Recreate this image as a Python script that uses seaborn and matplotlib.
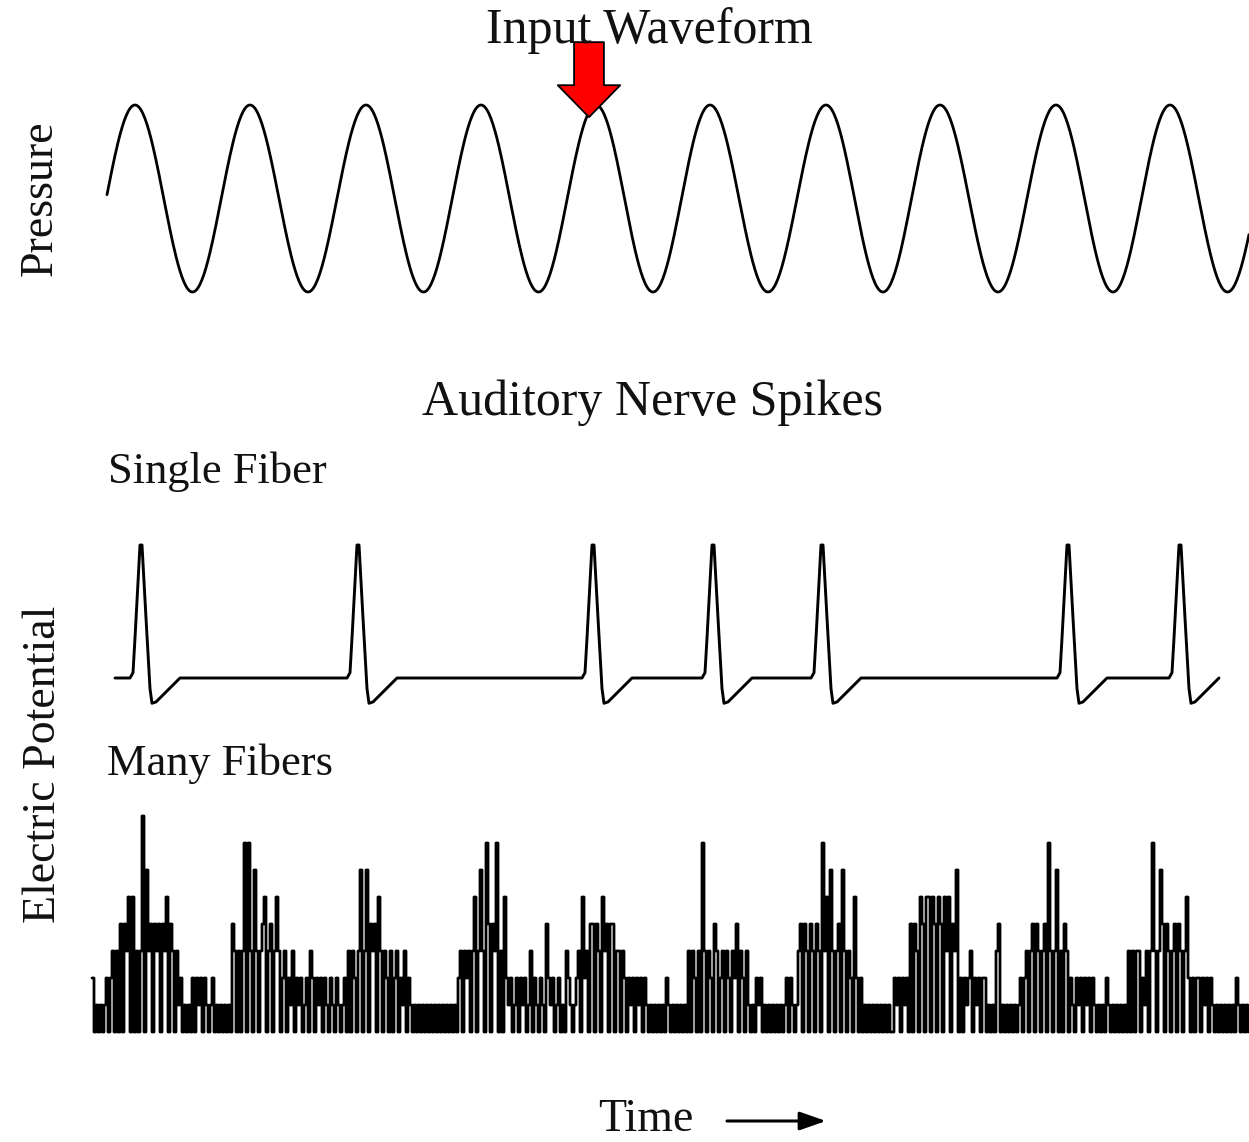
import numpy as np
import matplotlib
matplotlib.use("Agg")
import matplotlib.pyplot as plt
import seaborn as sns

# ---------------- data ----------------
# Input waveform: times of the pressure peaks (time axis in picture units)
PEAK_TIMES = [135, 250, 366, 481, 596, 710, 826, 940, 1056, 1170]
WAVE_START = 107
WAVE_END = 1249
ARROW_TIME = 589           # red arrow marks this instant (near 5th peak)
ARROW_VALUE = 0.87

# Single fiber: spike times and the shape of one action potential
SPIKE_TIMES = [141, 358, 593, 713, 822, 1068, 1180]
SPIKE_DT = [-11, -8, -6, -1, 1, 5, 9, 11, 15, 39]
SPIKE_V = [0.0, 0.04, 0.30, 1.0, 1.0, 0.45, -0.08, -0.19, -0.18, 0.0]
SINGLE_START = 115

# Many fibers: number of simultaneously firing fibers, one digit per sample
MANY_START = 92
MANY_STEP = 2
MANY_FIBERS = [
    "2010101202 3030404350 5030380634 0434043504 3031201010 2021202101",
    "2010101010 4303037073 0630345034 0353023021 3021201203 2021202102",
    "1021012030 3203603604 3405303203 0230213021 0101010101 0101010101",
    "0102303230 3503630740 4370305212 0120212013 0210210421 2012010321",
    "0123052304 4043053404 4033032021 2021202101 0101010210 1010101030",
    "3203073032 0430230320 3240320310 1021201010 1010101202 1013404304",
    "3043073506 3034063032 0520201010 1010101010 0212021204 0430540550",
    "5405405350 4360202123 0212022010 1034010101 0101202303 4043034073",
    "0360304302 1021202120 2101010210 1010101030 3033021303 7303640430",
    "3404303520 2022021202 1010101010 102101010",
]

# ---------------- style ----------------
sns.set_theme(style="white")
plt.rcParams["font.family"] = ["Liberation Serif", "DejaVu Serif"]

W, H = 1249, 1142
fig = plt.figure(figsize=(W / 100, H / 100), dpi=100)
fig.patch.set_facecolor("white")


def rect(y_top, y_bot):
    return [0, 1 - y_bot / H, 1, (y_bot - y_top) / H]


def fx(x):
    return x / W


def fy(y):
    return 1 - y / H


# ---------------- pressure waveform ----------------
ax_p = fig.add_axes(rect(30, 330))
t = np.arange(WAVE_START, WAVE_END + 1, 1.0)
period = np.mean(np.diff(PEAK_TIMES))
knots = [PEAK_TIMES[0] - period] + PEAK_TIMES + [PEAK_TIMES[-1] + period]
phase = np.interp(t, knots, 2 * np.pi * np.arange(len(knots)))
pressure = np.cos(phase)
sns.lineplot(x=t, y=pressure, ax=ax_p, color="black", lw=2.0,
             estimator=None, sort=False)
ax_p.set_xlim(0, W)
ax_p.set_ylim(-1 - (330 - 292) / 93.5, 1 + (105 - 30) / 93.5)
ax_p.set_axis_off()

ax_p.annotate("", xy=(ARROW_TIME, ARROW_VALUE), xycoords="data",
              xytext=(0, 54), textcoords="offset points",
              arrowprops=dict(width=21.5, headwidth=45, headlength=23,
                              shrink=0, facecolor="#ff0000",
                              edgecolor="black", lw=1.3),
              annotation_clip=False)

# ---------------- single fiber ----------------
ax_s = fig.add_axes(rect(510, 730))
ts, vs = [SINGLE_START], [0.0]
for s in SPIKE_TIMES:
    ts += [s + d for d in SPIKE_DT]
    vs += SPIKE_V
sns.lineplot(x=ts, y=vs, ax=ax_s, color="black", lw=2.1,
             estimator=None, sort=False)
ax_s.set_xlim(0, W)
ax_s.set_ylim((678 - 730) / 133, (678 - 510) / 133)
ax_s.set_axis_off()

# ---------------- many fibers ----------------
ax_m = fig.add_axes(rect(790, 1060))
levels = [int(c) for c in "".join(MANY_FIBERS).replace(" ", "")]
tm = MANY_START + MANY_STEP * np.arange(len(levels))
sns.lineplot(x=tm, y=levels, ax=ax_m, color="black", lw=2.0,
             drawstyle="steps-post", estimator=None, sort=False)
ax_m.set_xlim(0, W)
ax_m.set_ylim((1032 - 1060) / 27, (1032 - 790) / 27)
ax_m.set_axis_off()

# ---------------- texts ----------------
fig.text(fx(649), fy(43), "Input Waveform", fontsize=36, ha="center",
         va="baseline", color="#111111")
fig.text(fx(652), fy(415), "Auditory Nerve Spikes", fontsize=36,
         ha="center", va="baseline", color="#111111")
fig.text(fx(108), fy(483), "Single Fiber", fontsize=32, ha="left",
         va="baseline", color="#111111")
fig.text(fx(107), fy(775), "Many Fibers", fontsize=32, ha="left",
         va="baseline", color="#111111")
fig.text(fx(52), fy(198), "Pressure", fontsize=33, rotation=90,
         rotation_mode="anchor", ha="center", va="baseline",
         color="#111111")
fig.text(fx(55), fy(764), "Electric Potential", fontsize=33, rotation=90,
         rotation_mode="anchor", ha="center", va="baseline",
         color="#111111")
fig.text(fx(598), fy(1131), "Time", fontsize=33, ha="left",
         va="baseline", color="#111111")
ax_m.annotate("", xy=(826, H - 1121), xycoords="figure pixels",
              xytext=(727, H - 1121), textcoords="figure pixels",
              arrowprops=dict(arrowstyle="-|>,head_length=0.8,head_width=0.28",
                              mutation_scale=20, lw=2.2, color="black",
                              shrinkA=0, shrinkB=0),
              annotation_clip=False)

fig.savefig("out.png", dpi=100, facecolor="white")
